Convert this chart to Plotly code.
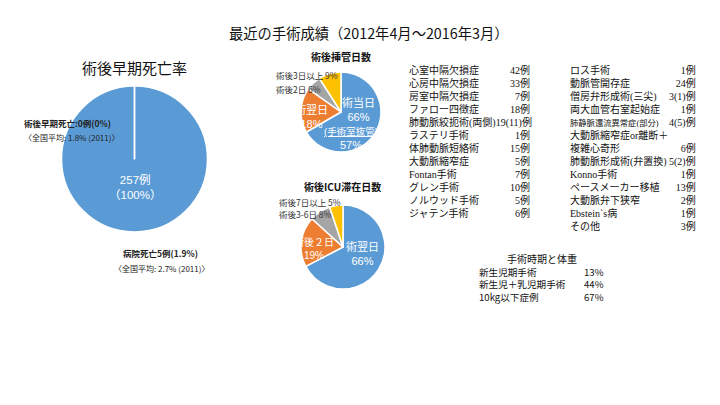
import plotly.graph_objects as go

W, H = 720, 405

# ---------------- data ----------------
mortality_labels = ["生存", "術後早期死亡"]
mortality_values = [257, 0]

intub_labels = ["術当日", "術翌日", "術後2日", "術後3日以上"]
intub_values = [66, 18, 6, 9]
intub_extubated_in_or = 57

icu_labels = ["術翌日", "術後2日", "術後3-6日", "術後7日以上"]
icu_values = [66, 19, 8, 5]

pie_colors = ["#5B9BD5", "#ED7D31", "#A5A5A5", "#FFC000"]

col1_labels = ["心室中隔欠損症", "心房中隔欠損症", "房室中隔欠損症", "ファロー四徴症",
               "肺動脈絞扼術(両側)19(11)例", "ラステリ手術", "体肺動脈短絡術", "大動脈縮窄症",
               "Fontan手術", "グレン手術", "ノルウッド手術", "ジャテン手術"]
col1_values = ["42例", "33例", "7例", "18例", "", "1例", "15例", "5例", "7例", "10例", "5例", "6例"]

col2_labels = ["ロス手術", "動脈管開存症", "僧房弁形成術(三尖)", "両大血管右室起始症",
               "肺静脈還流異常症(部分)", "大動脈縮窄症or離断＋", "複雑心奇形", "肺動脈形成術(弁置換)",
               "Konno手術", "ペースメーカー移植", "大動脈弁下狭窄", "Ebstein`s病", "その他"]
col2_values = ["1例", "24例", "3(1)例", "1例", "4(5)例", "", "6例", "5(2)例",
               "1例", "13例", "2例", "1例", "3例"]

age_title = "手術時期と体重"
age_labels = ["新生児期手術", "新生児＋乳児期手術", "10kg以下症例"]
age_values = ["13%", "44%", "67%"]

# ---------------- helpers ----------------
def px(x):
    return x / W

def py(y):
    return 1 - y / H

def dom(cx, cy, r):
    return dict(x=[px(cx - r), px(cx + r)], y=[py(cy + r), py(cy - r)])

SANS = "Noto Sans CJK JP"
LSANS = "Liberation Sans, Noto Sans CJK JP"
MIX = "Liberation Serif, Noto Sans CJK JP"

fig = go.Figure()

P1 = (134.5, 159, 73)
P2 = (341, 112, 40)
P3 = (343, 247, 42)

common = dict(sort=False, direction="clockwise", rotation=0, textinfo="none", textposition="none",
              hoverinfo="label+value", showlegend=False)

fig.add_trace(go.Pie(labels=mortality_labels, values=mortality_values, domain=dom(*P1),
                     marker=dict(colors=pie_colors[:2], line=dict(color="white", width=1.5)), **common))
fig.add_trace(go.Pie(labels=intub_labels, values=intub_values, domain=dom(*P2),
                     marker=dict(colors=pie_colors, line=dict(color="white", width=1.5)), **common))
fig.add_trace(go.Pie(labels=icu_labels, values=icu_values, domain=dom(*P3),
                     marker=dict(colors=pie_colors, line=dict(color="white", width=1.5)), **common))

# zero-slice boundary in the mortality pie
fig.add_shape(type="line", xref="paper", yref="paper",
              x0=px(P1[0]), x1=px(P1[0]), y0=py(P1[1]), y1=py(P1[1] - P1[2]),
              line=dict(color="white", width=1.5))

ann = []

def T(text, x, y, size=10, color="#222", family=SANS, xanchor="left", bold=False, align=None):
    if bold:
        text = "<b>" + text + "</b>"
    ann.append(dict(text=text, x=px(x), y=py(y), xref="paper", yref="paper",
                    showarrow=False, xanchor=xanchor, yanchor="middle",
                    align=align or ("left" if xanchor == "left" else "right" if xanchor == "right" else "center"),
                    font=dict(size=size, color=color, family=family)))

# titles
T("最近の手術成績（2012年4月～2016年3月）", 369, 32, size=14.3, color="#111", xanchor="center")
T("術後早期死亡率", 134, 68, size=15, color="#111", xanchor="center")
T("術後挿管日数", 340.5, 57, size=10, color="#111", xanchor="center", bold=True)
T("術後ICU滞在日数", 342, 187, size=10, color="#111", xanchor="center", bold=True)

# mortality pie texts
T(f"{mortality_values[0]}例<br>（100%）", 135, 187, size=11.5, color="white", family=LSANS, xanchor="center")
T(f"術後早期死亡:{mortality_values[1]}例(0%)", 22, 123, size=8.5, color="#222", bold=True)
T("〈全国平均: 1.8% (2011)〉", 22, 137, size=8, color="#222")
T("病院死亡5例(1.9%)", 121, 253, size=8.5, color="#222", bold=True)
T("〈全国平均: 2.7% (2011)〉", 112, 268, size=8, color="#222")

# intubation pie texts
T(f"術当日<br>{intub_values[0]}%", 358.5, 109, size=11, color="white", family=LSANS, xanchor="center")
T(f"<span style='font-size:9.5px'><u>(手術室抜管)</u></span><br>{intub_extubated_in_or}%",
  351, 138.5, size=11, color="white", family=LSANS, xanchor="center")
T(f"術翌日<br>{intub_values[1]}%", 311, 117, size=11, color="white", family=LSANS, xanchor="center")
T(f"術後3日以上 {intub_values[3]}%", 274, 75, size=8.5, color="#333")
T(f"術後2日 {intub_values[2]}%", 274, 89, size=8.5, color="#333")

# ICU pie texts
T(f"術翌日<br>{icu_values[0]}%", 362, 253.5, size=11, color="white", family=LSANS, xanchor="center")
T(f"術後２日<br>{icu_values[1]}%", 314, 248.5, size=10, color="white", family=LSANS, xanchor="center")
T(f"術後7日以上 {icu_values[3]}%", 277, 202, size=8.5, color="#333")
T(f"術後3-6日 {icu_values[2]}%", 277, 214, size=8.5, color="#333")

# procedure lists (multi-line blocks; line pitch = 1.3 x font size)
LS = 10
pitch = 1.3 * LS
y0 = 70
NB = "\u00a0"

def block(items):
    return "<br>".join(s if s else NB for s in items)

n1 = len(col1_labels)
T(block(col1_labels), 407, y0 + (n1 - 1) * pitch / 2, size=LS, color="#111", family=MIX)
T(block(col1_values), 532, y0 + (n1 - 1) * pitch / 2, size=LS, color="#111", family=MIX, xanchor="right")

n2 = len(col2_labels)
col2_fmt = [f"<span style='font-size:8.3px'>{s}</span>" if "還流" in s else s for s in col2_labels]
T(block(col2_fmt), 568, y0 + (n2 - 1) * pitch / 2, size=LS, color="#111", family=MIX)
T(block(col2_values), 698, y0 + (n2 - 1) * pitch / 2, size=LS, color="#111", family=MIX, xanchor="right")

# surgery timing table
T(age_title, 542, 258, size=10, color="#111", xanchor="center")
AS = 9.6
na = len(age_labels)
T(block(age_labels), 477, 272 + (na - 1) * 1.3 * AS / 2, size=AS, color="#111")
T(block(age_values), 606, 272 + (na - 1) * 1.3 * AS / 2, size=AS, color="#111", xanchor="right")

fig.update_layout(width=W, height=H, margin=dict(l=0, r=0, t=0, b=0),
                  paper_bgcolor="white", plot_bgcolor="white",
                  annotations=ann, showlegend=False)

fig.write_html("out.html")
